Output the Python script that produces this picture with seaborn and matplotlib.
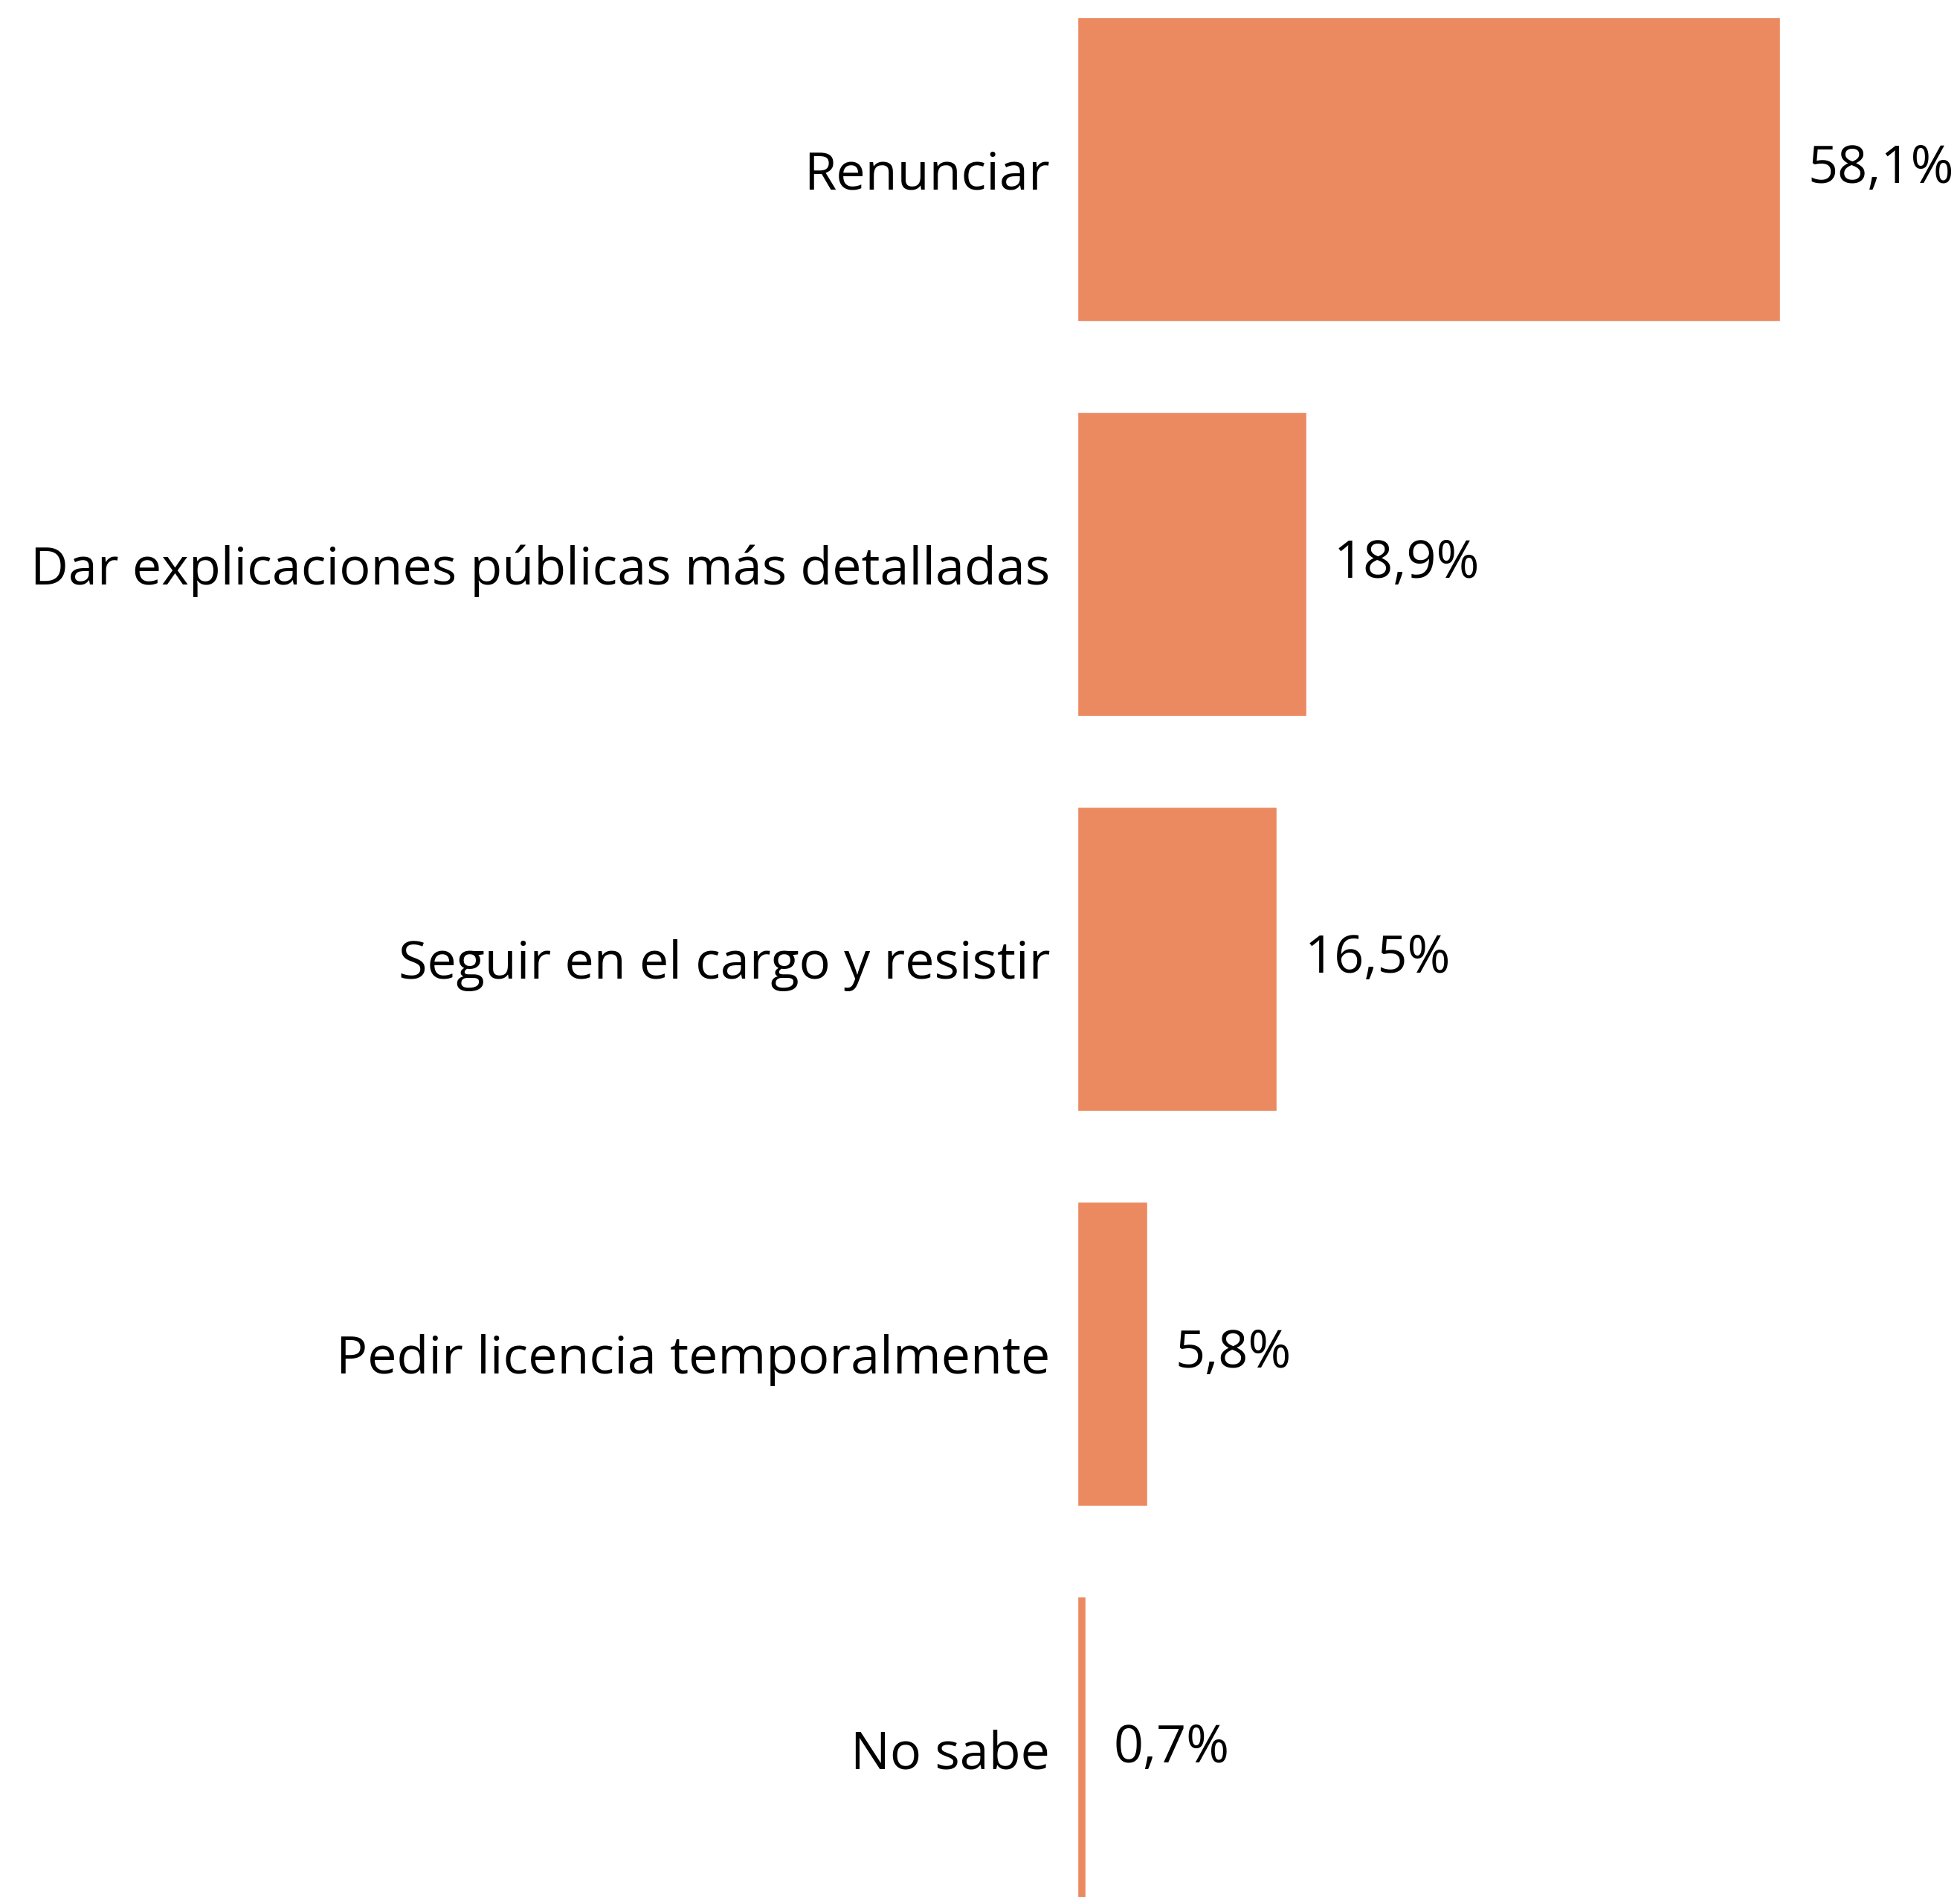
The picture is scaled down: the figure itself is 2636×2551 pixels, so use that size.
import matplotlib
matplotlib.use("Agg")
import matplotlib.pyplot as plt
import seaborn as sns
import pandas as pd

categories = ["Renunciar", "Dar explicaciones públicas más detalladas",
              "Seguir en el cargo y resistir", "Pedir licencia temporalmente", "No sabe"]
values = [58.1, 18.9, 16.5, 5.8, 0.7]
labels = ["58,1%", "18,9%", "16,5%", "5,8%", "0,7%"]

sns.set_style("white")
plt.rcParams['font.family'] = ['Open Sans', 'DejaVu Sans']

df = pd.DataFrame({"opcion": categories, "pct": values})

fig = plt.figure(figsize=(26.36, 25.51), dpi=100)
ax = fig.add_axes([1449 / 2636, 0, 1 - 1449 / 2636, 1])
sns.barplot(data=df, x="pct", y="opcion", orient="h", color="#EB8A61",
            saturation=1, width=0.77, ax=ax)

ax.bar_label(ax.containers[0], labels=labels, padding=26.6, fontsize=50.5, color="black")
ax.set_xlim(0, (2636 - 1449) / 16.27)
ax.set_ylim(4.375, -0.429)
ax.set_xlabel("")
ax.set_ylabel("")
ax.set_xticks([])
ax.tick_params(axis="y", length=0, pad=26.6, labelsize=50.5, labelcolor="black")
sns.despine(ax=ax, left=True, bottom=True)

fig.savefig("out.png", dpi=100, facecolor="white")
